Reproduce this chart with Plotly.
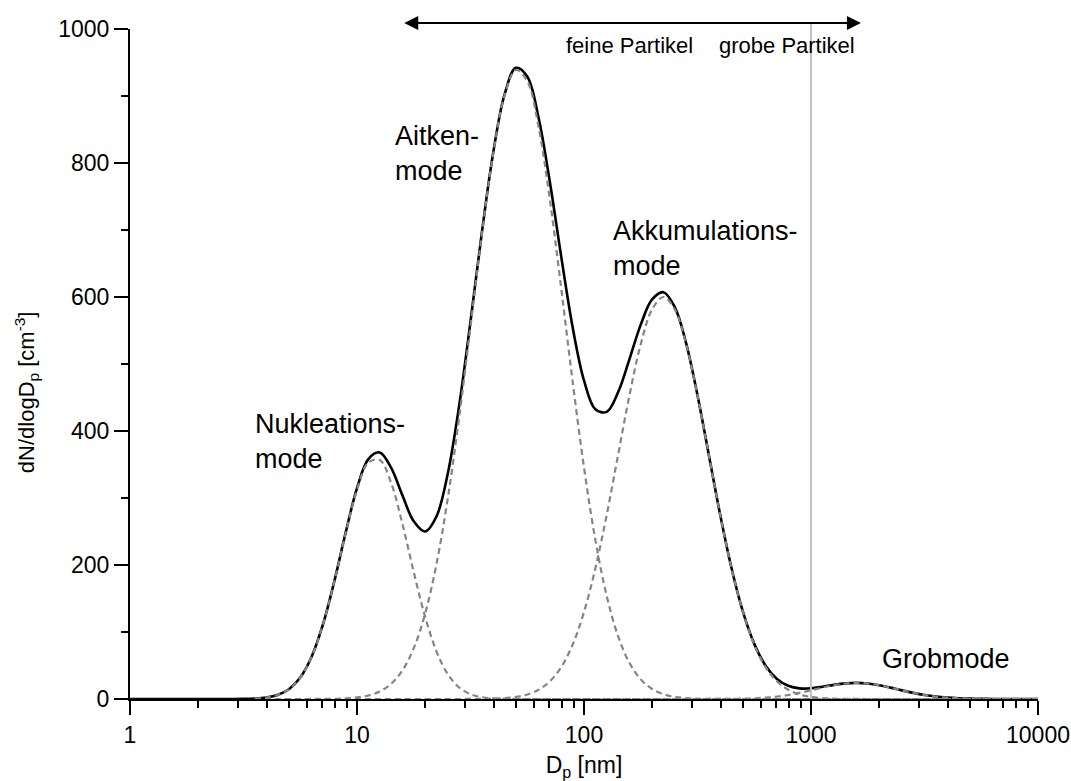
import numpy as np
import plotly.graph_objects as go

# ---------------- data ----------------
# particle diameter grid, log10(Dp / nm)
log_dp = [0.00, 0.30, 0.35, 0.40, 0.45, 0.50, 0.55, 0.60, 0.65, 0.70,
          0.75, 0.80, 0.85, 0.90, 0.95, 1.00, 1.05, 1.10, 1.15, 1.20,
          1.25, 1.30, 1.35, 1.40, 1.45, 1.50, 1.55, 1.60, 1.65, 1.70,
          1.75, 1.80, 1.85, 1.90, 1.95, 2.00, 2.05, 2.10, 2.15, 2.20,
          2.25, 2.30, 2.35, 2.40, 2.45, 2.50, 2.55, 2.60, 2.65, 2.70,
          2.75, 2.80, 2.85, 2.90, 2.95, 3.00, 3.05, 3.10, 3.15, 3.20,
          3.25, 3.30, 3.35, 3.40, 3.45, 3.50, 3.55, 3.60, 3.65, 3.70,
          3.75, 3.80, 3.85, 3.90, 4.00]

# dN/dlogDp [cm^-3] of the single modes on that grid
nucleation = [0, 0, 0, 0.01, 0.05, 0.2, 0.7, 2.2, 5.9, 14.5,
              32.0, 63.0, 111.1, 175.2, 247.3, 312.3, 352.9, 356.8, 322.8, 261.4,
              189.4, 122.8, 71.2, 37.0, 17.2, 7.1, 2.7, 0.9, 0.3, 0.1,
              0, 0, 0, 0, 0, 0, 0, 0, 0, 0,
              0, 0, 0, 0, 0, 0, 0, 0, 0, 0,
              0, 0, 0, 0, 0, 0, 0, 0, 0, 0,
              0, 0, 0, 0, 0, 0, 0, 0, 0, 0,
              0, 0, 0, 0, 0]

aitken = [0, 0, 0, 0, 0, 0, 0, 0, 0, 0,
          0, 0.05, 0.14, 0.38, 0.97, 2.33, 5.27, 11.2, 22.5, 42.6,
          75.8, 127.2, 201.2, 299.6, 420.6, 556.3, 693.2, 814.0, 900.6, 938.9,
          922.3, 853.6, 744.5, 611.8, 473.7, 345.6, 237.5, 153.9, 93.9, 54.0,
          29.3, 14.9, 7.2, 3.26, 1.39, 0.56, 0.21, 0.08, 0.03, 0.01,
          0, 0, 0, 0, 0, 0, 0, 0, 0, 0,
          0, 0, 0, 0, 0, 0, 0, 0, 0, 0,
          0, 0, 0, 0, 0]

accumulation = [0, 0, 0, 0, 0, 0, 0, 0, 0, 0,
                0, 0, 0, 0, 0, 0, 0, 0, 0, 0,
                0, 0, 0, 0, 0.02, 0.07, 0.2, 0.53, 1.31, 3.05,
                6.67, 13.7, 26.4, 47.7, 81.2, 129.8, 194.8, 274.7, 363.9, 452.9,
                529.5, 581.5, 600.0, 581.5, 529.5, 452.9, 363.9, 274.7, 194.8, 129.8,
                81.2, 47.7, 26.4, 13.7, 6.67, 3.05, 1.31, 0.53, 0.2, 0.07,
                0.02, 0, 0, 0, 0, 0, 0, 0, 0, 0,
                0, 0, 0, 0, 0]

coarse = [0, 0, 0, 0, 0, 0, 0, 0, 0, 0,
          0, 0, 0, 0, 0, 0, 0, 0, 0, 0,
          0, 0, 0, 0, 0, 0, 0, 0, 0, 0,
          0, 0, 0, 0, 0, 0, 0, 0, 0, 0,
          0, 0, 0, 0, 0, 0, 0.04, 0.09, 0.23, 0.51,
          1.05, 2.03, 3.62, 5.99, 9.15, 12.9, 16.96, 20.6, 23.1, 24.0,
          23.1, 20.6, 16.96, 12.9, 9.15, 5.99, 3.62, 2.03, 1.05, 0.51,
          0.23, 0.09, 0.04, 0.01, 0]

for arr in (nucleation, aitken, accumulation, coarse):
    assert len(arr) == len(log_dp)

x_tick_vals = [1, 10, 100, 1000, 10000]
x_tick_text = ["1", "10", "100", "1000", "10000"]
y_tick_vals = [0, 200, 400, 600, 800, 1000]
y_tick_text = ["0", "200", "400", "600", "800", "1000"]

# size boundary fine / coarse particles [nm]
boundary_nm = 1000
# double arrow above the plot [nm]
arrow_from_nm, arrow_to_nm = 15.9, 1660

# labels: (text, x [nm], y, xanchor)
labels = [
    ("Nukleations-<br>mode", 3.48, 385, "left"),
    ("Aitken-<br>mode", 14.4, 814, "left"),
    ("Akkumulations-<br>mode", 131.5, 672, "left"),
    ("Grobmode", 2014, 60, "left"),
]
region_labels = [
    ("feine Partikel", 308, 975, "right"),
    ("grobe Partikel", 385, 975, "left"),
]

# ---------------- figure ----------------
dp = 10 ** np.array(log_dp)
modes = [np.array(nucleation), np.array(aitken), np.array(accumulation), np.array(coarse)]
total = np.sum(modes, axis=0)

FONT = "Liberation Sans, Arial, Helvetica, sans-serif"
fig = go.Figure()

fig.add_trace(go.Scatter(x=dp, y=total, mode="lines", line=dict(color="black", width=2.6, shape="spline"),
                         cliponaxis=False, hoverinfo="skip"))
start = 6  # dashed modes begin at ~3.5 nm
for m in modes:
    fig.add_trace(go.Scatter(x=dp[start:], y=m[start:], mode="lines",
                             line=dict(color="#858585", width=2.2, dash="6px,4px", shape="spline"),
                             cliponaxis=False, hoverinfo="skip"))

ARROW_Y = 1.009  # paper units, just above the top of the axes
fig.add_shape(type="line", xref="x", yref="paper", x0=boundary_nm, x1=boundary_nm, y0=0, y1=ARROW_Y,
              line=dict(color="#c0c0c0", width=2), layer="above")

fig.add_annotation(x=np.log10(arrow_to_nm), y=ARROW_Y, ax=np.log10(arrow_from_nm), ay=0,
                   xref="x", yref="paper", axref="x", ayref="pixel", text="", showarrow=True,
                   arrowhead=2, arrowside="end+start", arrowsize=1.4, arrowwidth=2, arrowcolor="black",
                   standoff=0, startstandoff=0)

for txt, xv, yv, anc in labels:
    fig.add_annotation(x=np.log10(xv), y=yv, xref="x", yref="y", text=txt, showarrow=False,
                       xanchor=anc, yanchor="middle", align="left",
                       font=dict(family=FONT, size=27, color="black"))
for txt, xv, yv, anc in region_labels:
    fig.add_annotation(x=np.log10(xv), y=yv, xref="x", yref="y", text=txt, showarrow=False,
                       xanchor=anc, yanchor="middle", align="left",
                       font=dict(family=FONT, size=22, color="black"))

# y-axis title (placed as rotated text, slightly below the axis centre as in the original)
fig.add_annotation(x=-0.1145, y=0.458, xref="paper", yref="paper", showarrow=False,
                   text="dN/dlogD<sub>p</sub> [cm<sup>-3</sup>]", textangle=-90,
                   xanchor="center", yanchor="middle",
                   font=dict(family=FONT, size=22, color="black"))

axis_common = dict(showline=True, linecolor="black", linewidth=2, ticks="outside", ticklen=14, tickwidth=2,
                   tickcolor="black", showgrid=False, zeroline=False, layer="below traces", automargin=False,
                   tickfont=dict(family=FONT, size=23, color="black"))

fig.update_xaxes(type="log", range=[0, 4], tickmode="array", tickvals=x_tick_vals, ticktext=x_tick_text,
                 minor=dict(ticks="outside", ticklen=7, tickwidth=2, tickcolor="black", dtick="D1", showgrid=False),
                 title=dict(text="D<sub>p</sub> [nm]", font=dict(family=FONT, size=23, color="black"), standoff=10),
                 **axis_common)
fig.update_yaxes(range=[0, 1000], tickmode="array", tickvals=y_tick_vals, ticktext=y_tick_text,
                 minor=dict(ticks="outside", ticklen=7, tickwidth=2, tickcolor="black", dtick=100, showgrid=False),
                 **axis_common)

fig.update_layout(width=1071, height=781, margin=dict(l=130, r=33, t=29, b=82, autoexpand=False),
                  paper_bgcolor="white", plot_bgcolor="white", showlegend=False,
                  font=dict(family=FONT, color="black"))

fig.write_html("out.html")
